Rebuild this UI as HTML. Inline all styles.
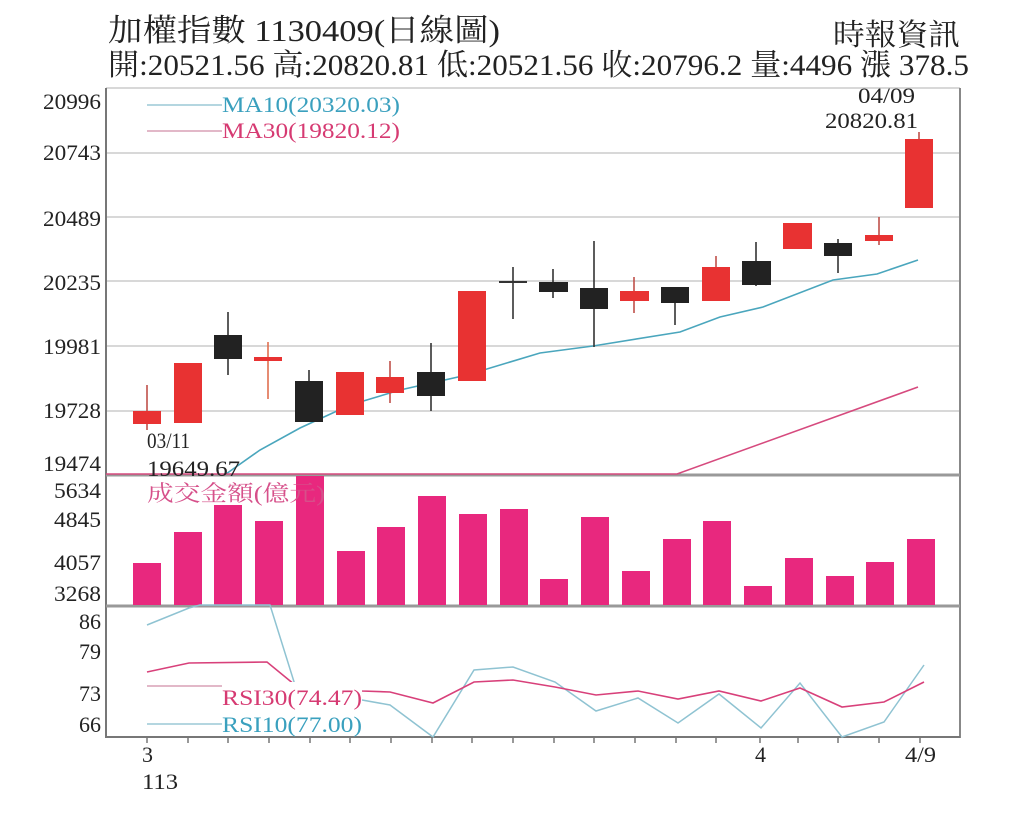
<!DOCTYPE html>
<html><head><meta charset="utf-8"><style>
html,body{margin:0;padding:0;background:#fff;}
svg{display:block;}
text{font-family:"Liberation Serif","Noto Serif CJK SC",serif;}
</style></head><body>
<svg width="1024" height="820" viewBox="0 0 1024 820" xmlns="http://www.w3.org/2000/svg">
<rect width="1024" height="820" fill="#fff"/>
<!-- titles -->
<text x="108" y="41" font-size="31" fill="#222" textLength="392" lengthAdjust="spacingAndGlyphs">加權指數 1130409(日線圖)</text>
<text x="833" y="45" font-size="30" fill="#222" textLength="127" lengthAdjust="spacingAndGlyphs">時報資訊</text>
<text x="108" y="75" font-size="30" fill="#222" textLength="861" lengthAdjust="spacingAndGlyphs">開:20521.56 高:20820.81 低:20521.56 收:20796.2 量:4496 漲 378.5</text>

<!-- grid -->
<g stroke="#d8d8d8" stroke-width="2">
<line x1="106" y1="88" x2="960" y2="88"/>
<line x1="106" y1="153" x2="960" y2="153"/>
<line x1="106" y1="217" x2="960" y2="217"/>
<line x1="106" y1="281" x2="960" y2="281"/>
<line x1="106" y1="346" x2="960" y2="346"/>
<line x1="106" y1="411" x2="960" y2="411"/>
</g>
<!-- borders -->
<line x1="106" y1="88" x2="106" y2="738" stroke="#777" stroke-width="2"/>
<line x1="960" y1="88" x2="960" y2="738" stroke="#888" stroke-width="2"/>
<line x1="106" y1="475" x2="960" y2="475" stroke="#999" stroke-width="3"/>
<line x1="106" y1="606" x2="960" y2="606" stroke="#999" stroke-width="3"/>
<line x1="106" y1="737" x2="960" y2="737" stroke="#777" stroke-width="2"/>

<!-- y labels -->
<g font-size="22" fill="#222" text-anchor="end">
<text x="101" y="109" textLength="58" lengthAdjust="spacingAndGlyphs">20996</text>
<text x="101" y="160" textLength="58" lengthAdjust="spacingAndGlyphs">20743</text>
<text x="101" y="226" textLength="58" lengthAdjust="spacingAndGlyphs">20489</text>
<text x="101" y="290" textLength="58" lengthAdjust="spacingAndGlyphs">20235</text>
<text x="101" y="354" textLength="58" lengthAdjust="spacingAndGlyphs">19981</text>
<text x="101" y="418" textLength="58" lengthAdjust="spacingAndGlyphs">19728</text>
<text x="101" y="471" textLength="58" lengthAdjust="spacingAndGlyphs">19474</text>
<text x="101" y="498" textLength="47" lengthAdjust="spacingAndGlyphs">5634</text>
<text x="101" y="527" textLength="47" lengthAdjust="spacingAndGlyphs">4845</text>
<text x="101" y="570" textLength="47" lengthAdjust="spacingAndGlyphs">4057</text>
<text x="101" y="601" textLength="47" lengthAdjust="spacingAndGlyphs">3268</text>
<text x="101" y="629">86</text>
<text x="101" y="659">79</text>
<text x="101" y="701">73</text>
<text x="101" y="732">66</text>
</g>

<!-- MA lines -->
<polyline fill="none" stroke="#4aa6bd" stroke-width="1.6" points="226,474 260,450 300,428 350,405 400,390 467,375 540,353 593,346 680,332 720,317 763,307 833,280 877,274 918,260"/>
<polyline fill="none" stroke="#d64a7e" stroke-width="1.6" points="106,474 677,474 918,387"/>

<!-- candles -->
<g stroke-width="1.6">
<!-- 1 --><line x1="147" y1="385" x2="147" y2="430" stroke="#c0504a"/><rect x="133" y="411" width="28" height="13" fill="#e83232"/>
<!-- 2 --><rect x="174" y="363" width="28" height="60" fill="#e83232"/>
<!-- 3 --><line x1="228" y1="312" x2="228" y2="375" stroke="#333"/><rect x="214" y="335" width="28" height="24" fill="#222"/>
<!-- 4 --><line x1="268" y1="342" x2="268" y2="399" stroke="#e07050"/><rect x="254" y="357" width="28" height="4" fill="#e83232"/>
<!-- 5 --><line x1="309" y1="370" x2="309" y2="422" stroke="#333"/><rect x="295" y="381" width="28" height="41" fill="#222"/>
<!-- 6 --><rect x="336" y="372" width="28" height="43" fill="#e83232"/>
<!-- 7 --><line x1="390" y1="361" x2="390" y2="403" stroke="#c0504a"/><rect x="376" y="377" width="28" height="16" fill="#e83232"/>
<!-- 8 --><line x1="431" y1="343" x2="431" y2="411" stroke="#333"/><rect x="417" y="372" width="28" height="24" fill="#222"/>
<!-- 9 --><rect x="458" y="291" width="28" height="90" fill="#e83232"/>
<!-- 10 --><line x1="513" y1="267" x2="513" y2="319" stroke="#333"/><line x1="499" y1="282" x2="527" y2="282" stroke="#333" stroke-width="2"/>
<!-- 11 --><line x1="553" y1="269" x2="553" y2="298" stroke="#333"/><rect x="539" y="282" width="29" height="10" fill="#222"/>
<!-- 12 --><line x1="594" y1="241" x2="594" y2="347" stroke="#333"/><rect x="580" y="288" width="28" height="21" fill="#222"/>
<!-- 13 --><line x1="634" y1="277" x2="634" y2="313" stroke="#c0504a"/><rect x="620" y="291" width="29" height="10" fill="#e83232"/>
<!-- 14 --><line x1="675" y1="287" x2="675" y2="325" stroke="#333"/><rect x="661" y="287" width="28" height="16" fill="#222"/>
<!-- 15 --><line x1="716" y1="256" x2="716" y2="267" stroke="#c0504a"/><rect x="702" y="267" width="28" height="34" fill="#e83232"/>
<!-- 16 --><line x1="756" y1="242" x2="756" y2="286" stroke="#333"/><rect x="742" y="261" width="29" height="24" fill="#222"/>
<!-- 17 --><rect x="783" y="223" width="29" height="26" fill="#e83232"/>
<!-- 18 --><line x1="838" y1="239" x2="838" y2="273" stroke="#333"/><rect x="824" y="243" width="28" height="13" fill="#222"/>
<!-- 19 --><line x1="879" y1="217" x2="879" y2="245" stroke="#c0504a"/><rect x="865" y="235" width="28" height="6" fill="#e83232"/>
<!-- 20 --><line x1="919" y1="132" x2="919" y2="139" stroke="#c0504a"/><rect x="905" y="139" width="28" height="69" fill="#e83232"/>
</g>

<!-- annotations -->
<g font-size="22" fill="#222">
<text x="147" y="448" textLength="43" lengthAdjust="spacingAndGlyphs">03/11</text>
<text x="147" y="476" textLength="93" lengthAdjust="spacingAndGlyphs">19649.67</text>
<text x="858" y="103" textLength="57" lengthAdjust="spacingAndGlyphs">04/09</text>
<text x="825" y="128" textLength="93" lengthAdjust="spacingAndGlyphs">20820.81</text>
</g>

<!-- MA legend -->
<line x1="147" y1="105" x2="222" y2="105" stroke="#9cc9d6" stroke-width="1.5"/>
<line x1="147" y1="131" x2="222" y2="131" stroke="#d9a0b5" stroke-width="1.5"/>
<text x="222" y="112" font-size="22" fill="#3aa0be" textLength="178" lengthAdjust="spacingAndGlyphs">MA10(20320.03)</text>
<text x="222" y="138" font-size="22" fill="#d63a72" textLength="178" lengthAdjust="spacingAndGlyphs">MA30(19820.12)</text>

<!-- volume bars -->
<g fill="#e8287e">
<rect x="133" y="563" width="28" height="42"/>
<rect x="174" y="532" width="28" height="73"/>
<rect x="214" y="505" width="28" height="100"/>
<rect x="255" y="521" width="28" height="84"/>
<rect x="296" y="476" width="28" height="129"/>
<rect x="337" y="551" width="28" height="54"/>
<rect x="377" y="527" width="28" height="78"/>
<rect x="418" y="496" width="28" height="109"/>
<rect x="459" y="514" width="28" height="91"/>
<rect x="500" y="509" width="28" height="96"/>
<rect x="540" y="579" width="28" height="26"/>
<rect x="581" y="517" width="28" height="88"/>
<rect x="622" y="571" width="28" height="34"/>
<rect x="663" y="539" width="28" height="66"/>
<rect x="703" y="521" width="28" height="84"/>
<rect x="744" y="586" width="28" height="19"/>
<rect x="785" y="558" width="28" height="47"/>
<rect x="826" y="576" width="28" height="29"/>
<rect x="866" y="562" width="28" height="43"/>
<rect x="907" y="539" width="28" height="66"/>
</g>
<text x="147" y="501" font-size="22" fill="#d6508a" textLength="178" lengthAdjust="spacingAndGlyphs">成交金額(億元)</text>

<!-- RSI -->
<polyline fill="none" stroke="#8fc3d2" stroke-width="1.5" points="147,625 189,608 200,605 248,605 270,605 295,685 362,700 390,705 433,737 474,670 513,667 555,682 596,711 638,698 678,723 719,694 761,728 800,683 842,737 884,722 924,665"/>
<polyline fill="none" stroke="#d8407a" stroke-width="1.6" points="147,672 189,663 267,662 295,685 362,691 390,692 433,703 474,682 513,680 555,687 596,695 638,691 678,699 719,691 761,701 800,688 842,707 884,702 924,682"/>
<rect x="222" y="682" width="140" height="52" fill="#fff"/>
<line x1="147" y1="686" x2="222" y2="686" stroke="#d9a0b5" stroke-width="1.5"/>
<line x1="147" y1="724" x2="222" y2="724" stroke="#9cc9d6" stroke-width="1.5"/>
<text x="222" y="705" font-size="22" fill="#d63a72" textLength="140" lengthAdjust="spacingAndGlyphs">RSI30(74.47)</text>
<text x="222" y="732" font-size="22" fill="#3aa0be" textLength="140" lengthAdjust="spacingAndGlyphs">RSI10(77.00)</text>

<!-- x ticks -->
<g stroke="#777" stroke-width="1.5">
<line x1="147" y1="737" x2="147" y2="743"/><line x1="188" y1="737" x2="188" y2="743"/><line x1="228" y1="737" x2="228" y2="743"/><line x1="269" y1="737" x2="269" y2="743"/><line x1="310" y1="737" x2="310" y2="743"/><line x1="350" y1="737" x2="350" y2="743"/><line x1="391" y1="737" x2="391" y2="743"/><line x1="432" y1="737" x2="432" y2="743"/><line x1="472" y1="737" x2="472" y2="743"/><line x1="513" y1="737" x2="513" y2="743"/><line x1="554" y1="737" x2="554" y2="743"/><line x1="594" y1="737" x2="594" y2="743"/><line x1="635" y1="737" x2="635" y2="743"/><line x1="676" y1="737" x2="676" y2="743"/><line x1="716" y1="737" x2="716" y2="743"/><line x1="760" y1="737" x2="760" y2="743"/><line x1="798" y1="737" x2="798" y2="743"/><line x1="838" y1="737" x2="838" y2="743"/><line x1="879" y1="737" x2="879" y2="743"/><line x1="920" y1="737" x2="920" y2="743"/>
</g>
<g font-size="22" fill="#222">
<text x="142" y="762">3</text>
<text x="142" y="789" textLength="36" lengthAdjust="spacingAndGlyphs">113</text>
<text x="755" y="762">4</text>
<text x="905" y="762" textLength="31" lengthAdjust="spacingAndGlyphs">4/9</text>
</g>
</svg>
</body></html>
